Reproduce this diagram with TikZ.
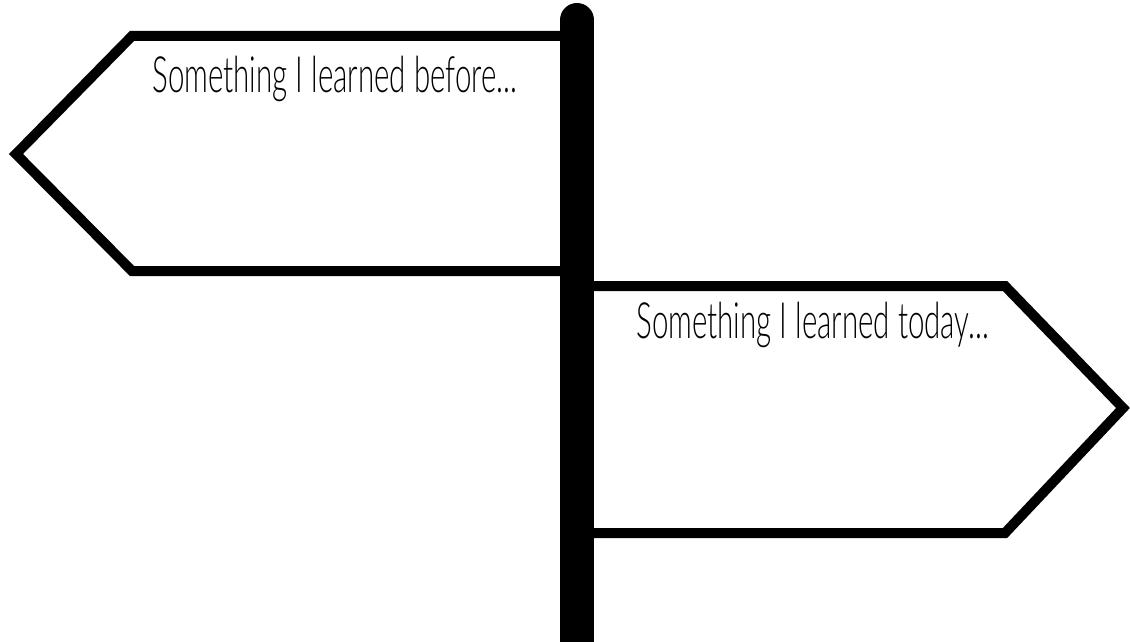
\documentclass[tikz,border=0pt]{standalone}
\usepackage{fontspec}
\newfontfamily\signfont[FakeStretch=0.59]{Lato Light}
\tikzset{
  signline/.style={line width=5pt, line join=miter},
  signtext/.style={anchor=base west, inner sep=0pt, font=\signfont\fontsize{25}{28}\selectfont}
}

\begin{document}
\begin{tikzpicture}[x=0.5pt, y=-0.5pt]
\useasboundingbox (0, 0) rectangle (1130, 642);
\draw [signline] (560, 36) -- (132, 36) -- (16, 154) -- (132, 271) -- (560, 271);
\draw [signline] (592, 286) -- (1005, 286) -- (1123, 408) -- (1005, 533) -- (592, 533);
\draw [line width=17pt, line cap=round] (577, 20) -- (577, 680);
\node [signtext] (before) at (152, 93) {Something I learned before...};
\node [signtext] (today) at (636, 338) {Something I learned today...};
\end{tikzpicture}
\end{document}
